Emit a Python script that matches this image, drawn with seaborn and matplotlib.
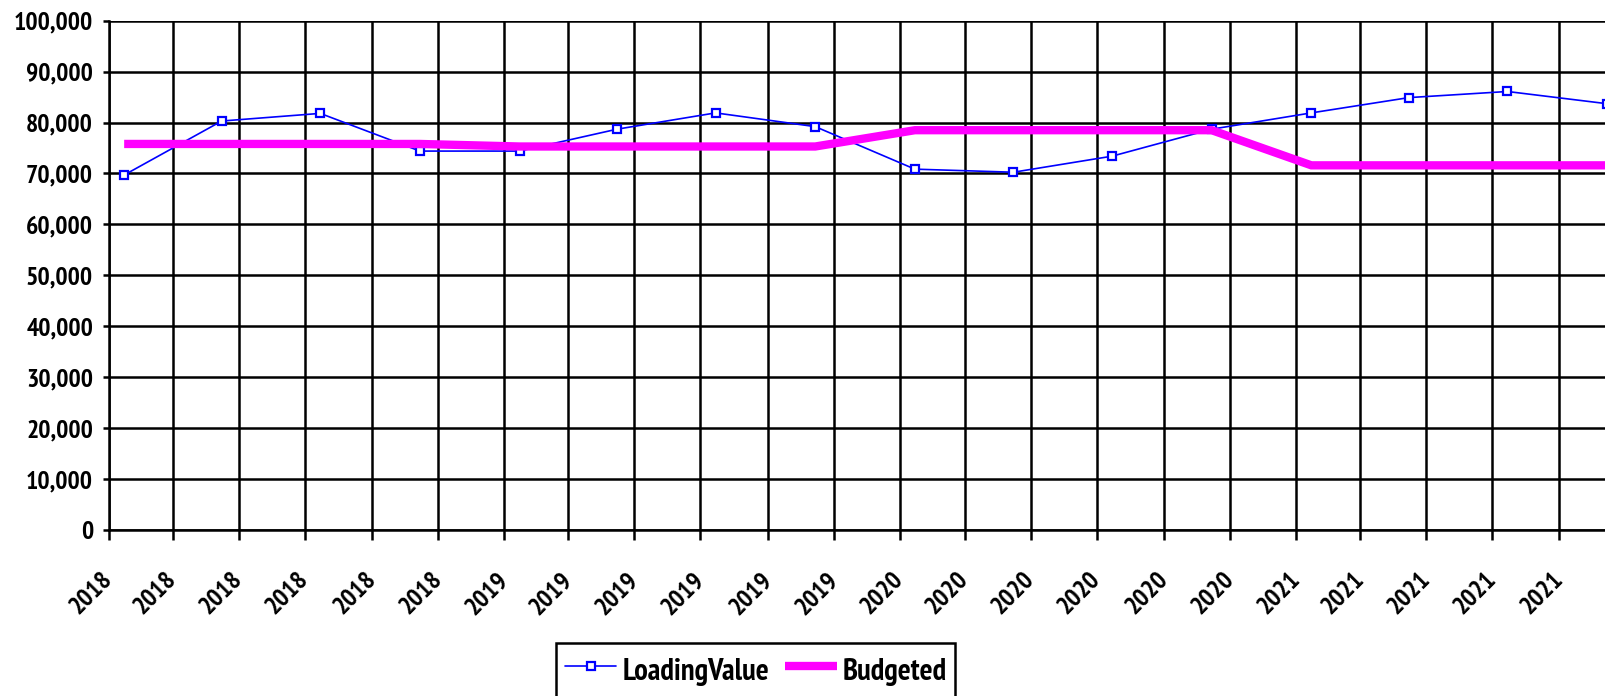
import numpy as np
import matplotlib.pyplot as plt
import matplotlib.dates as mdates
import matplotlib.ticker as mticker
import pandas as pd
import seaborn as sns


# quarterly readings
dates = ["2018-01-15", "2018-04-15", "2018-07-15", "2018-10-15",
         "2019-01-15", "2019-04-15", "2019-07-15", "2019-10-15",
         "2020-01-15", "2020-04-15", "2020-07-15", "2020-10-15",
         "2021-01-15", "2021-04-15", "2021-07-15", "2021-10-15"]
loadingValue = [69700, 80300, 81800, 74400,
                74400, 78700, 81900, 79200,
                70850, 70250, 73400, 78700,
                81900, 84900, 86100, 83700]
budgeted = [75800, 75800, 75800, 75800,
            75300, 75300, 75300, 75300,
            78500, 78500, 78500, 78500,
            71600, 71600, 71600, 71600]
seriesNames = ["LoadingValue", "Budgeted"]

df = pd.DataFrame({"Date": pd.to_datetime(dates),
                   "LoadingValue": loadingValue,
                   "Budgeted": budgeted})

sns.set_style("white")
# narrow bold face like the original; falls back to Liberation Sans
plt.rcParams['font.family'] = ['PT Sans Narrow', 'Liberation Sans', 'DejaVu Sans']
plt.rcParams['font.weight'] = 'bold'
plt.rcParams['text.color'] = 'black'
plt.rcParams['xtick.color'] = 'black'
plt.rcParams['ytick.color'] = 'black'

fig = plt.figure(figsize=(16.06, 6.96), dpi=100)
ax = fig.add_axes([109 / 1606, 1 - 530 / 696, 1 - 109 / 1606, (530 - 20.7) / 696])

sns.lineplot(data=df, x="Date", y="LoadingValue", ax=ax, color="#0000FF", linewidth=1.2,
             marker="s", markersize=6, markerfacecolor="white", markeredgecolor="#0000FF",
             markeredgewidth=1.6, legend=False, zorder=3)
sns.lineplot(data=df, x="Date", y="Budgeted", ax=ax, color="#FF00FF", linewidth=6,
             solid_capstyle="butt", solid_joinstyle="miter", legend=False, zorder=4)

ax.set_ylim(0, 100000)
ax.set_xlim(pd.Timestamp("2018-01-01"), pd.Timestamp("2021-10-14"))
ax.yaxis.set_major_locator(mticker.MultipleLocator(10000))
ax.yaxis.set_major_formatter(mticker.FuncFormatter(lambda v, p: f"{v:,.0f}"))
ax.xaxis.set_major_locator(mdates.MonthLocator(bymonth=[1, 3, 5, 7, 9, 11]))
ax.xaxis.set_major_formatter(mdates.DateFormatter("%Y"))

ax.grid(True, color="black", linewidth=1.8)
ax.set_axisbelow(True)
ax.set_xlabel("")
ax.set_ylabel("")

for s in ["top", "right"]:
    ax.spines[s].set_visible(False)
for s in ["left", "bottom"]:
    ax.spines[s].set_color("black")
    ax.spines[s].set_linewidth(1.8)

ax.tick_params(axis="y", direction="out", length=4.5, width=1.8, color="black",
               labelsize=18.5, labelcolor="black", pad=7, left=True)
ax.tick_params(axis="x", direction="out", length=7, width=1.8, color="black",
               labelsize=18.5, labelcolor="black", pad=26, bottom=True)
for lbl in ax.get_xticklabels():
    lbl.set_rotation(45)
    lbl.set_ha("right")
    lbl.set_va("center")
    lbl.set_rotation_mode("anchor")
    lbl.set_fontweight("bold")
for lbl in ax.get_yticklabels():
    lbl.set_fontweight("bold")

handles = ax.get_lines()[:2]
leg = fig.legend(handles, seriesNames, loc="upper left",
                 bbox_to_anchor=(556 / 1606, 1 - 643 / 696), ncol=2,
                 frameon=True, fancybox=False, edgecolor="black", framealpha=1,
                 fontsize=22, handlelength=1.7, handleheight=1.5, handletextpad=0.2,
                 columnspacing=0.5, borderpad=0.28, borderaxespad=0)
leg.get_frame().set_linewidth(1.8)
for t in leg.get_texts():
    t.set_fontweight("bold")
    t.set_color("black")

plt.savefig("out.png", dpi=100)
